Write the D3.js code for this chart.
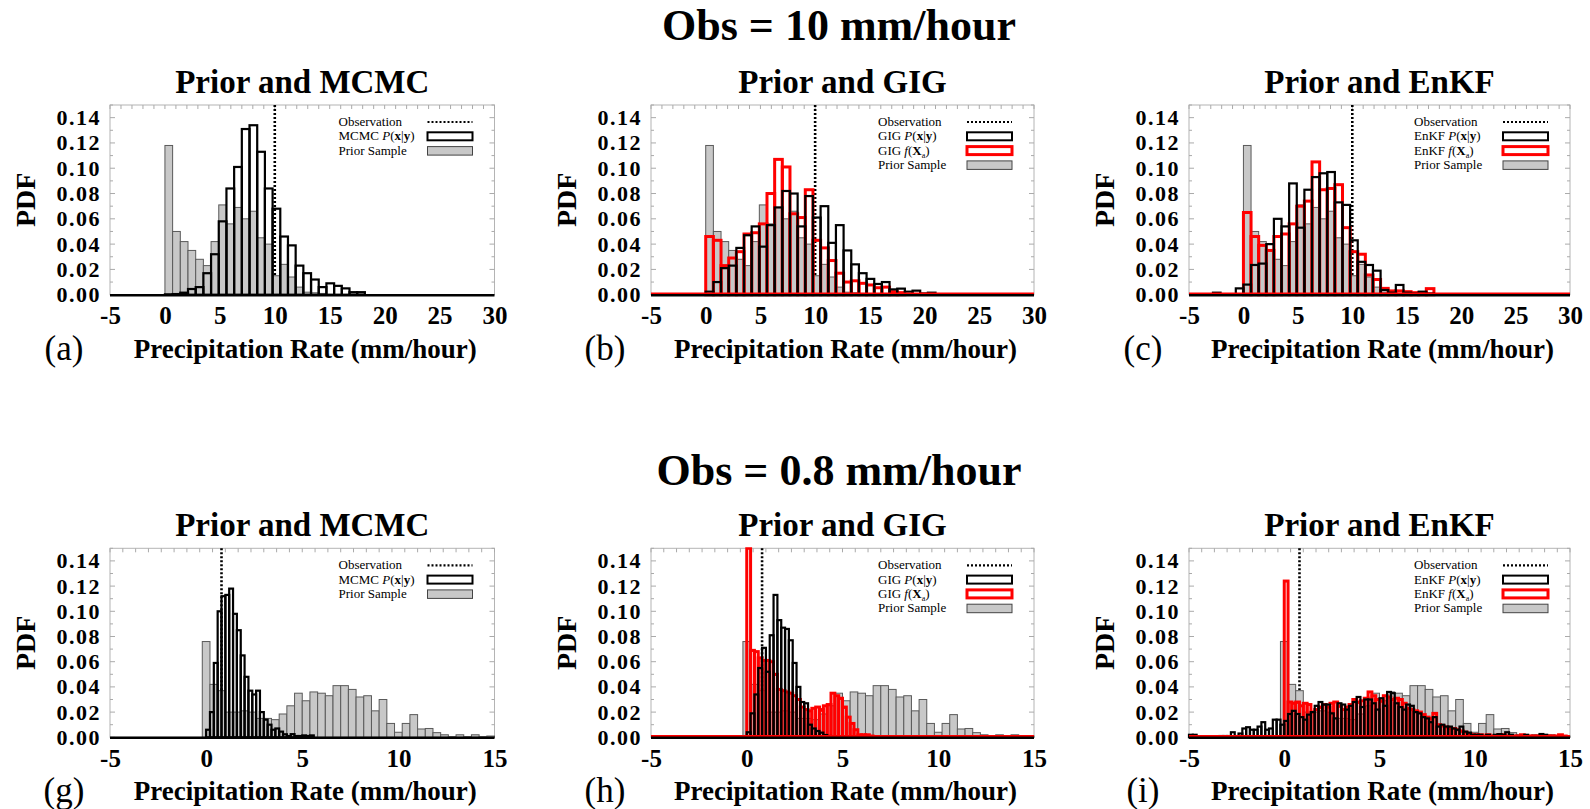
<!DOCTYPE html>
<html>
<head>
<meta charset="utf-8">
<script src="https://cdn.jsdelivr.net/npm/d3@7"></script>
<style>
  body { margin: 0; background: #fff; }
  svg { display: block; }
  text { font-family: "Liberation Serif", "Times New Roman", serif; }
</style>
</head>
<body>
<svg id="chart" width="1590" height="809"></svg>
<script>
// ---- values ----

// upper row : Obs = 10 mm/hour, bins 0.7 wide
var obsTop = 10;
var topBinStart = 0, topBinWidth = 0.7;
var priorTop = [0.118, 0.050, 0.042, 0.035, 0.028, 0.023, 0.042, 0.071, 0.056, 0.069,
                0.060, 0.066, 0.045, 0.040, 0.015, 0.024, 0.014, 0.006, 0.002, 0.0015, 0.001];
var mcmcTop = [0.0003, 0.0005, 0.0016, 0.0045, 0.006, 0.017, 0.032, 0.058, 0.084, 0.101,
               0.131, 0.134, 0.113, 0.084, 0.068, 0.046, 0.039, 0.023, 0.017, 0.012,
               0.006, 0.009, 0.007, 0.005, 0.002, 0.002];
var gigTop = [0.0024, 0.010, 0.021, 0.023, 0.037, 0.047, 0.054, 0.038, 0.055, 0.069,
              0.082, 0.080, 0.054, 0.078, 0.061, 0.070, 0.041, 0.055, 0.035, 0.024,
              0.017, 0.0125, 0.0085, 0.010, 0.0042, 0.0048, 0.0024, 0.0032, 0.001, 0.0016];
var gigFTop = [0.046, 0.043, 0.023, 0.029, 0.034, 0.048, 0.049, 0.056, 0.080, 0.107,
               0.101, 0.064, 0.061, 0.083, 0.043, 0.037, 0.027, 0.017, 0.010, 0.011,
               0.009, 0.0077, 0.0055, 0.006, 0.0024, 0.0016];
var enkfTopStart = -2.8;
var enkfTop = [0.0016, 0, 0, 0.005, 0.008, 0.0235, 0.0246, 0.040, 0.060, 0.054,
               0.088, 0.053, 0.083, 0.093, 0.096, 0.097, 0.073, 0.071, 0.043, 0.026,
               0.0235, 0.019, 0.0037, 0.0016, 0.0077, 0.0016, 0.001, 0.0024, 0.001];
var enkfFTop = [0.065, 0.046, 0.039, 0.035, 0.046, 0.048, 0.056, 0.070, 0.074, 0.105,
                0.083, 0.084, 0.087, 0.053, 0.034, 0.032, 0.0156, 0.012, 0.005, 0.003,
                0.003, 0.0024, 0.0016, 0.0016, 0.0048];

// lower row : Obs = 0.8 mm/hour
var obsBot = 0.8;
var priorBotStart = -0.2, priorBotWidth = 0.4;
var postBotStart = 0, postBotWidth = 0.2;
var priorBot = [0.076, 0.042, 0.037, 0.020, 0.020, 0.021, 0.020, 0.015, 0.015, 0.014,
                0.0185, 0.025, 0.035, 0.029, 0.036, 0.035, 0.033, 0.041, 0.041, 0.038,
                0.032, 0.033, 0.021, 0.030, 0.011, 0.004, 0.011, 0.018, 0.0066, 0.007,
                0.0037, 0.002, 0.0005, 0.002, 0.0005, 0.002, 0.0005, 0.001];
var mcmcBot = [0.006, 0.020, 0.059, 0.100, 0.112, 0.113, 0.118, 0.098, 0.085, 0.065,
               0.048, 0.037, 0.034, 0.037, 0.020, 0.014, 0.010, 0.006, 0.007, 0.0045,
               0.0024, 0.001, 0.0025, 0.001, 0.001, 0.0015, 0.001, 0.0015];
var gigBot = [0.004, 0.019, 0.034, 0.055, 0.071, 0.052, 0.081, 0.113, 0.093, 0.087,
              0.086, 0.077, 0.059, 0.040, 0.028, 0.027, 0.010, 0.007, 0.005, 0.0037,
              0.0018, 0.001];
var gigFBot = [0.150, 0.069, 0.068, 0.063, 0.061, 0.061, 0.060, 0.050, 0.038, 0.037,
               0.036, 0.035, 0.033, 0.030, 0.024, 0.022, 0.021, 0.023, 0.024, 0.022,
               0.025, 0.026, 0.035, 0.033, 0.031, 0.024, 0.016, 0.011, 0.006, 0.002,
               0.002, 0.002, 0.001];
var enkfBotStart = -5;
var enkfBot = [0.002, 0.002, 0, 0, 0, 0, 0, 0.0005, 0.001, 0.001,
               0.001, 0.004, 0.001, 0.003, 0.007, 0.008, 0.006, 0.006, 0.0085, 0.012,
               0.006, 0.007, 0.014, 0.014, 0.010,
               0.013, 0.0185, 0.021, 0.0185, 0.016, 0.014, 0.018, 0.020, 0.025, 0.028,
               0.026, 0.026, 0.019, 0.015, 0.027, 0.026, 0.022, 0.025, 0.028, 0.032,
               0.024, 0.030, 0.030, 0.027, 0.022, 0.031, 0.025, 0.036, 0.035, 0.027,
               0.024, 0.022, 0.026, 0.025, 0.020, 0.019, 0.016, 0.015, 0.012, 0.016,
               0.0085, 0.010, 0.0085, 0.0085, 0.007, 0.006, 0.0085, 0.0045, 0.0037, 0.002,
               0.002, 0.002, 0.001, 0.002, 0.001, 0.002, 0.0025, 0.002, 0.004, 0.002,
               0.001, 0.001, 0.001, 0.002, 0.0005, 0.001, 0.0005, 0.0026, 0.002, 0.0005,
               0.0005, 0.0005, 0.0005, 0, 0];
var enkfFBot = [0.124, 0.028, 0.027, 0.028, 0.025, 0.027, 0.026, 0.020, 0.022, 0.024,
                0.026, 0.024, 0.027, 0.028, 0.025, 0.022, 0.024, 0.026, 0.030, 0.028,
                0.029, 0.031, 0.036, 0.033, 0.030, 0.029, 0.033, 0.032, 0.030, 0.031,
                0.030, 0.027, 0.023, 0.022, 0.021, 0.020, 0.018, 0.016, 0.015, 0.019,
                0.010, 0.009, 0.008, 0.007, 0.007, 0.006, 0.005, 0.004, 0.003, 0.002,
                0.002, 0.002, 0.001, 0.002, 0.001, 0.001, 0.002, 0.002, 0.001, 0.001,
                0.001, 0.001, 0.002, 0.001, 0.001, 0.001, 0.001, 0.001, 0.001, 0.001,
                0.001, 0.001, 0.002, 0.001, 0];

var xTicksTop = [-5, 0, 5, 10, 15, 20, 25, 30];
var xTicksBot = [-5, 0, 5, 10, 15];
var yTicks = [0, 0.02, 0.04, 0.06, 0.08, 0.10, 0.12, 0.14];

// ---- layout ----
var svg = d3.select("#chart");
var rows = [
  {title: "Obs = 10 mm/hour", titleY: 40, top: 105, base: 294.7, dom: [-5, 30], ticks: xTicksTop, obs: obsTop, minor: 1},
  {title: "Obs = 0.8 mm/hour", titleY: 485, top: 548.3, base: 737.3, dom: [-5, 15], ticks: xTicksBot, obs: obsBot, minor: 2 / 3}
];
var cols = [{left: 110, right: 494.5}, {left: 651, right: 1034}, {left: 1189, right: 1570}];

function series(values, start, width) {
  return values.map(function(v, i) { return {x0: start + i * width, x1: start + (i + 1) * width, v: v}; })
    .filter(function(d) { return d.v > 0; });
}

var panels = [
  {row: 0, col: 0, letter: "(a)", method: "MCMC", prior: series(priorTop, topBinStart, topBinWidth),
   post: series(mcmcTop, topBinStart, topBinWidth), f: null},
  {row: 0, col: 1, letter: "(b)", method: "GIG", prior: series(priorTop, topBinStart, topBinWidth),
   post: series(gigTop, topBinStart, topBinWidth), f: series(gigFTop, topBinStart, topBinWidth)},
  {row: 0, col: 2, letter: "(c)", method: "EnKF", prior: series(priorTop, topBinStart, topBinWidth),
   post: series(enkfTop, enkfTopStart, topBinWidth), f: series(enkfFTop, topBinStart, topBinWidth)},
  {row: 1, col: 0, letter: "(g)", method: "MCMC", prior: series(priorBot, priorBotStart, priorBotWidth),
   post: series(mcmcBot, postBotStart, postBotWidth), f: null},
  {row: 1, col: 1, letter: "(h)", method: "GIG", prior: series(priorBot, priorBotStart, priorBotWidth),
   post: series(gigBot, postBotStart, postBotWidth), f: series(gigFBot, postBotStart, postBotWidth)},
  {row: 1, col: 2, letter: "(i)", method: "EnKF", prior: series(priorBot, priorBotStart, priorBotWidth),
   post: series(enkfBot, enkfBotStart, postBotWidth), f: series(enkfFBot, postBotStart, postBotWidth)}
];

// row titles
rows.forEach(function(r) {
  svg.append("text").attr("x", 839).attr("y", r.titleY)
    .attr("text-anchor", "middle").attr("font-size", 44).attr("font-weight", "bold")
    .text(r.title);
});

function drawBars(g, data, x, y, base, fill, stroke, sw) {
  g.selectAll(null).data(data).enter().append("rect")
    .attr("x", function(d) { return x(d.x0); })
    .attr("width", function(d) { return x(d.x1) - x(d.x0); })
    .attr("y", function(d) { return y(d.v); })
    .attr("height", function(d) { return base - y(d.v); })
    .attr("fill", fill).attr("stroke", stroke).attr("stroke-width", sw);
}

function pLabel(t, method) {
  t.append("tspan").text(method + " ");
  t.append("tspan").attr("font-style", "italic").text("P");
  t.append("tspan").text("(");
  t.append("tspan").attr("font-weight", "bold").text("x");
  t.append("tspan").text("|");
  t.append("tspan").attr("font-weight", "bold").text("y");
  t.append("tspan").text(")");
}
function fLabel(t, method) {
  t.append("tspan").text(method + " ");
  t.append("tspan").attr("font-style", "italic").text("f");
  t.append("tspan").text("(");
  t.append("tspan").attr("font-weight", "bold").text("X");
  t.append("tspan").attr("font-size", 8).attr("dy", 3).text("a");
  t.append("tspan").attr("dy", -3).text(")");
}

panels.forEach(function(p, idx) {
  var r = rows[p.row], c = cols[p.col];
  var x = d3.scaleLinear().domain(r.dom).range([c.left, c.right]);
  var y = d3.scaleLinear().domain([0, 0.15]).range([r.base, r.top]);
  var g = svg.append("g");
  var cx = (c.left + c.right) / 2;

  // panel title
  g.append("text").attr("x", cx).attr("y", r.top - 12.5)
    .attr("text-anchor", "middle").attr("font-size", 33).attr("font-weight", "bold")
    .text("Prior and " + p.method);

  // frame with small ticks
  g.append("rect").attr("x", c.left).attr("y", r.top)
    .attr("width", c.right - c.left).attr("height", r.base - r.top)
    .attr("fill", "none").attr("stroke", "#b4b4b4").attr("stroke-width", 1);
  d3.range(0, 0.1501, 0.01).forEach(function(v, i) {
    var len = i % 2 === 0 ? 5 : 3;
    g.append("line").attr("x1", c.left).attr("x2", c.left + len).attr("y1", y(v)).attr("y2", y(v))
      .attr("stroke", "#aaa");
    g.append("line").attr("x1", c.right).attr("x2", c.right - len).attr("y1", y(v)).attr("y2", y(v))
      .attr("stroke", "#aaa");
  });
  d3.range(r.dom[0], r.dom[1] + 0.001, r.minor).forEach(function(v) {
    g.append("line").attr("x1", x(v)).attr("x2", x(v)).attr("y1", r.top).attr("y2", r.top + 4)
      .attr("stroke", "#aaa");
  });

  // clip for the histograms
  var clipId = "clip" + idx;
  svg.append("clipPath").attr("id", clipId).append("rect")
    .attr("x", c.left - 2).attr("y", r.top - 1).attr("width", c.right - c.left + 4).attr("height", r.base - r.top + 4);
  var plot = g.append("g").attr("clip-path", "url(#" + clipId + ")");

  // observation line (sits under the bars)
  plot.append("line").attr("x1", x(r.obs)).attr("x2", x(r.obs)).attr("y1", r.top).attr("y2", r.base)
    .attr("stroke", "#000").attr("stroke-width", 2.6).attr("stroke-dasharray", "2,2");

  drawBars(plot, p.prior, x, y, r.base, "#c8c8c8", "#5a5a5a", 1);
  if (p.f) drawBars(plot, p.f, x, y, r.base, "none", "#ff0000", 3);
  drawBars(plot, p.post, x, y, r.base, "none", "#000", 2.2);

  // zero line of the histograms
  if (p.f) {
    plot.append("line").attr("x1", c.left).attr("x2", c.right).attr("y1", r.base - 1).attr("y2", r.base - 1)
      .attr("stroke", "#ff0000").attr("stroke-width", 2.5);
  }
  plot.append("line").attr("x1", c.left).attr("x2", c.right).attr("y1", r.base + 0.5).attr("y2", r.base + 0.5)
    .attr("stroke", "#000").attr("stroke-width", 2.4);

  // axes labels
  var ax = g.append("g").attr("transform", "translate(0," + r.base + ")")
    .call(d3.axisBottom(x).tickValues(r.ticks).tickSize(0).tickPadding(12).tickFormat(String));
  ax.select(".domain").remove();
  ax.selectAll("text").attr("font-size", 25).attr("font-weight", "bold")
    .attr("font-family", "Liberation Serif, Times New Roman, serif");

  var ay = g.append("g").attr("transform", "translate(" + c.left + ",0)")
    .call(d3.axisLeft(y).tickValues(yTicks).tickSize(0).tickPadding(9).tickFormat(d3.format(".2f")));
  ay.select(".domain").remove();
  ay.selectAll("text").attr("font-size", 22).attr("font-weight", "bold").attr("letter-spacing", 1.5)
    .attr("font-family", "Liberation Serif, Times New Roman, serif");

  g.append("text").attr("transform", "translate(" + (c.left - 75) + "," + ((r.top + r.base) / 2) + ") rotate(-90)")
    .attr("text-anchor", "middle").attr("font-size", 28).attr("font-weight", "bold").text("PDF");

  g.append("text").attr("x", cx + 3).attr("y", r.base + 63)
    .attr("text-anchor", "middle").attr("font-size", 27).attr("font-weight", "bold")
    .text("Precipitation Rate (mm/hour)");

  g.append("text").attr("x", c.left - 46).attr("y", r.base + 65)
    .attr("text-anchor", "middle").attr("font-size", 35).text(p.letter);

  // legend
  var lx = c.right - 156, sx0 = c.right - 67, sx1 = c.right - 22;
  var entries = ["obs", "post"];
  if (p.f) entries.push("f");
  entries.push("prior");
  entries.forEach(function(e, i) {
    var by = r.top + 21 + 14.3 * i;
    var t = g.append("text").attr("x", lx).attr("y", by).attr("font-size", 13);
    if (e === "obs") {
      t.text("Observation");
      g.append("line").attr("x1", sx0).attr("x2", sx1).attr("y1", by - 4).attr("y2", by - 4)
        .attr("stroke", "#000").attr("stroke-width", 2.2).attr("stroke-dasharray", "2,2");
    } else if (e === "post") {
      pLabel(t, p.method);
      g.append("rect").attr("x", sx0).attr("y", by - 8).attr("width", sx1 - sx0).attr("height", 8)
        .attr("fill", "#fff").attr("stroke", "#000").attr("stroke-width", 2);
    } else if (e === "f") {
      fLabel(t, p.method);
      g.append("rect").attr("x", sx0).attr("y", by - 8).attr("width", sx1 - sx0).attr("height", 8)
        .attr("fill", "#fff").attr("stroke", "#ff0000").attr("stroke-width", 3);
    } else {
      t.text("Prior Sample");
      g.append("rect").attr("x", sx0).attr("y", by - 8).attr("width", sx1 - sx0).attr("height", 8.5)
        .attr("fill", "#c8c8c8").attr("stroke", "#444").attr("stroke-width", 1);
    }
  });
});
</script>
</body>
</html>
